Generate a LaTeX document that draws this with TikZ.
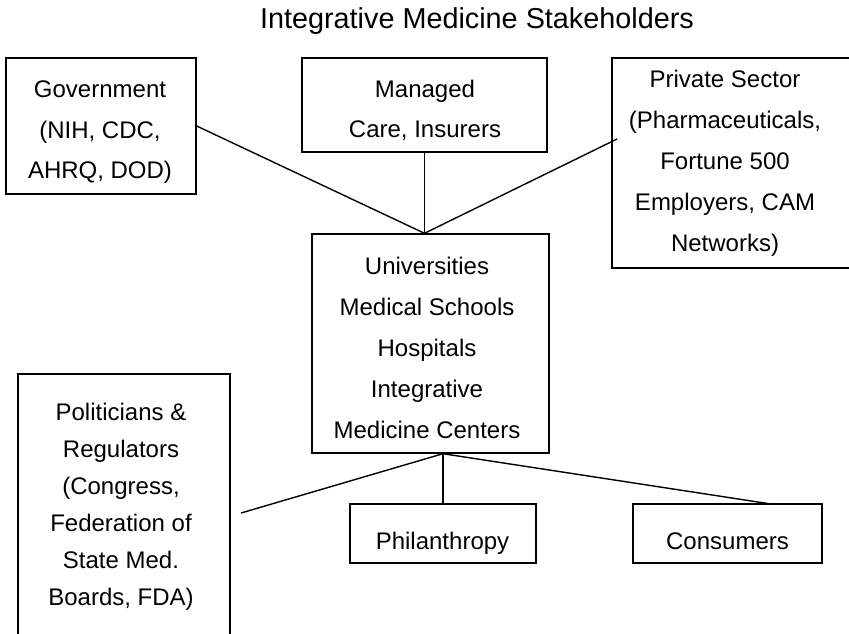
\documentclass[tikz,border=0pt]{standalone}
\usepackage{fontspec}
\setmainfont{Liberation Sans}
\usepackage{tikz}

\tikzset{
  box/.style={draw, inner sep=0pt},
  txt/.style={align=center, inner sep=0pt, font=\fontsize{12}{20.5}\selectfont},
}

\begin{document}
\begin{tikzpicture}[x=0.5pt,y=-0.5pt,line width=0.7pt]
		\clip (0,0) rectangle (849,633);
		% title
		\node[font=\fontsize{14.4}{17}\selectfont] (TITLE) at (477,21) {Integrative Medicine Stakeholders};
		% boxes
		\node[box,minimum width=95pt,minimum height=68pt] (GOV) at (101,126) {};
		\node[box,minimum width=122.5pt,minimum height=47pt] (MC) at (424.5,105) {};
		\node[box,minimum width=119.5pt,minimum height=105pt] (PS) at (731.5,163) {};
		\node[box,minimum width=118.5pt,minimum height=109.5pt] (UNI) at (430.5,343.5) {};
		\node[box,minimum width=106pt,minimum height=132pt] (POL) at (124,506) {};
		\node[box,minimum width=93pt,minimum height=29.5pt] (PHIL) at (443,533.5) {};
		\node[box,minimum width=94.5pt,minimum height=29.5pt] (CONS) at (727.5,533.5) {};
		% texts
		\node[txt,font=\fontsize{12}{20.25}\selectfont] (GOVtxt) at (100,132.5) {Government\\(NIH, CDC,\\AHRQ, DOD)};
		\node[txt,font=\fontsize{12}{20}\selectfont] (MCtxt) at (425,110.5) {Managed\\Care, Insurers};
		\node[txt] (PStxt) at (725,163.75) {Private Sector\\(Pharmaceuticals,\\Fortune 500\\Employers, CAM\\Networks)};
		\node[txt,font=\fontsize{12}{20.6}\selectfont] (UNItxt) at (427,348) {Universities\\Medical Schools\\Hospitals\\Integrative\\Medicine Centers};
		\node[txt,font=\fontsize{12}{18.5}\selectfont] (POLtxt) at (121,506.7) {Politicians \&\\Regulators\\(Congress,\\Federation of\\State Med.\\Boards, FDA)};
		\node[txt] (PHILtxt) at (442.5,543.5) {Philanthropy};
		\node[txt] (CONStxt) at (727.5,541) {Consumers};
		% connectors
		\coordinate (TOP) at (MC.south |- UNI.north);
		\coordinate (BOT) at (PHIL.north |- UNI.south);
		\coordinate (PSend) at (617,139);
		\coordinate (POLend) at (241,513);
		\coordinate (CONSend) at (771,504);
		\foreach \n in {GOV.east,MC.south,PSend}
		\draw (\n) -- (TOP);
		\foreach \n in {POLend,PHIL.north,CONSend}
		\draw (BOT) -- (\n);
\end{tikzpicture}
\end{document}
